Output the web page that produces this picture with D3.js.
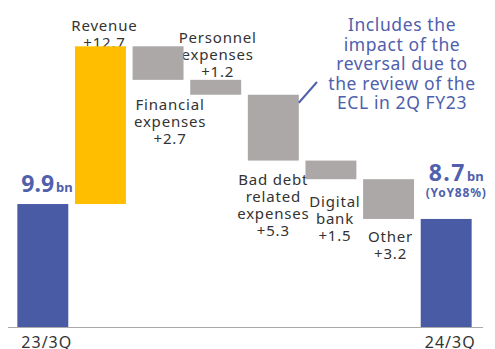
<!DOCTYPE html>
<html>
<head>
<meta charset="utf-8">
<script src="https://cdn.jsdelivr.net/npm/d3@7"></script>
<style>
  html, body { margin: 0; padding: 0; background: #fff; }
  svg { display: block; font-family: "Noto Sans", "DejaVu Sans", sans-serif; }
</style>
</head>
<body>
<svg id="chart" width="495" height="349"></svg>
<script>
// Ordinary profit bridge, 23/3Q -> 24/3Q (JPY bn)
const categories = ["23/3Q", "Revenue", "Financial expenses", "Personnel expenses",
  "Bad debt related expenses", "Digital bank", "Other", "24/3Q"];
const changes = [9.9, 12.7, -2.7, -1.2, -5.3, -1.5, -3.2, 8.7];
const kinds = ["total", "up", "down", "down", "down", "down", "down", "total"];
const labelLines = [
  [],
  ["Revenue", "+12.7"],
  ["Financial", "expenses", "+2.7"],
  ["Personnel", "expenses", "+1.2"],
  ["Bad debt", "related", "expenses", "+5.3"],
  ["Digital", "bank", "+1.5"],
  ["Other", "+3.2"],
  []
];
const totalLabels = ["9.9", "8.7"];
const noteLines = ["Includes the", "impact of the", "reversal due to", "the review of the", "ECL in 2Q FY23"];

const colors = { total: "#4a5ba6", up: "#ffbe00", down: "#aba8a7" };
const blueText = "#4f60ad";
const darkText = "#333";

// running start/end of each step
let run = 0;
const steps = categories.map((c, i) => {
  let y0, y1;
  if (kinds[i] === "total") { y0 = 0; y1 = changes[i]; run = changes[i]; }
  else { y0 = run; y1 = run + changes[i]; run = y1; }
  return { cat: c, kind: kinds[i], lo: Math.min(y0, y1), hi: Math.max(y0, y1), lines: labelLines[i], i };
});

const svg = d3.select("#chart");
const x = d3.scaleBand().domain(categories).range([14, 475]).paddingInner(0.116).paddingOuter(0.058);
const y = d3.scaleLinear().domain([0, 25]).range([327, 16.5]);

// label placement: anchored to the bar top or bottom
const place = {
  "Revenue": { dx: 4, anchor: "top", dy: -15 },
  "Financial expenses": { dx: 12, anchor: "bottom", dy: 30 },
  "Personnel expenses": { dx: 2, anchor: "top", dy: -37 },
  "Bad debt related expenses": { dx: 0, anchor: "bottom", dy: 24 },
  "Digital bank": { dx: 4, anchor: "bottom", dy: 28 },
  "Other": { dx: 2, anchor: "bottom", dy: 23 }
};
const lineH = 17;

const labels = svg.append("g").attr("fill", darkText).attr("font-size", 15)
  .attr("text-anchor", "middle").attr("letter-spacing", 0.8);
steps.filter(d => d.lines.length).forEach(d => {
  const p = place[d.cat];
  const base = (p.anchor === "top" ? y(d.hi) : y(d.lo)) + p.dy;
  const cx = x(d.cat) + x.bandwidth() / 2 + p.dx;
  d.lines.forEach((ln, k) => {
    labels.append("text").attr("x", cx).attr("y", base + k * lineH).text(ln);
  });
});

// total value labels
const firstCat = categories[0], lastCat = categories[categories.length - 1];
const t1 = svg.append("text").attr("x", x(firstCat) + 4).attr("y", y(changes[0]) - 12)
  .attr("fill", blueText).attr("font-weight", "bold");
t1.append("tspan").attr("font-size", 23).text(totalLabels[0]);
t1.append("tspan").attr("font-size", 13).attr("dx", 2).text("bn");

const t2 = svg.append("text").attr("x", x(lastCat) + 8).attr("y", y(changes[7]) - 38)
  .attr("fill", blueText).attr("font-weight", "bold");
t2.append("tspan").attr("font-size", 23).attr("letter-spacing", 1.5).text(totalLabels[1]);
t2.append("tspan").attr("font-size", 13).attr("dx", 1).text("bn");
svg.append("text").attr("x", x(lastCat) + x.bandwidth() / 2 + 10).attr("y", y(changes[7]) - 22)
  .attr("fill", blueText).attr("font-weight", "bold").attr("font-size", 12)
  .attr("text-anchor", "middle").attr("letter-spacing", 0.8).text("(YoY88%)");

// bars (drawn over the step labels)
svg.append("g").selectAll("rect").data(steps).join("rect")
  .attr("x", d => x(d.cat))
  .attr("width", x.bandwidth())
  .attr("y", d => y(d.hi))
  .attr("height", d => y(d.lo) - y(d.hi))
  .attr("fill", d => colors[d.kind]);

// baseline
svg.append("line").attr("x1", 8).attr("x2", 483).attr("y1", y(0) + 0.5).attr("y2", y(0) + 0.5)
  .attr("stroke", "#aaa").attr("stroke-width", 1.2);

// period labels on the axis
const xAxis = d3.axisBottom(x).tickValues([firstCat, lastCat]).tickSize(0).tickPadding(10);
const ax = svg.append("g").attr("transform", `translate(0,${y(0)})`).call(xAxis);
ax.select(".domain").remove();
ax.selectAll("text").attr("font-size", 16).attr("fill", darkText)
  .attr("font-family", "\"Noto Sans\", sans-serif").attr("letter-spacing", 1)
  .attr("dx", 4);

// note on the bad-debt step
const bad = steps[4];
const noteX = 402;
const noteG = svg.append("g").attr("fill", blueText).attr("font-size", 17.5)
  .attr("text-anchor", "middle").attr("letter-spacing", 0.6);
noteLines.forEach((ln, k) => {
  noteG.append("text").attr("x", noteX).attr("y", 31 + k * 19.5).text(ln);
});
svg.append("line")
  .attr("x1", x(bad.cat) + x.bandwidth()).attr("y1", y(bad.hi) + 8)
  .attr("x2", 317).attr("y2", 82)
  .attr("stroke", blueText).attr("stroke-width", 2);
</script>
</body>
</html>
